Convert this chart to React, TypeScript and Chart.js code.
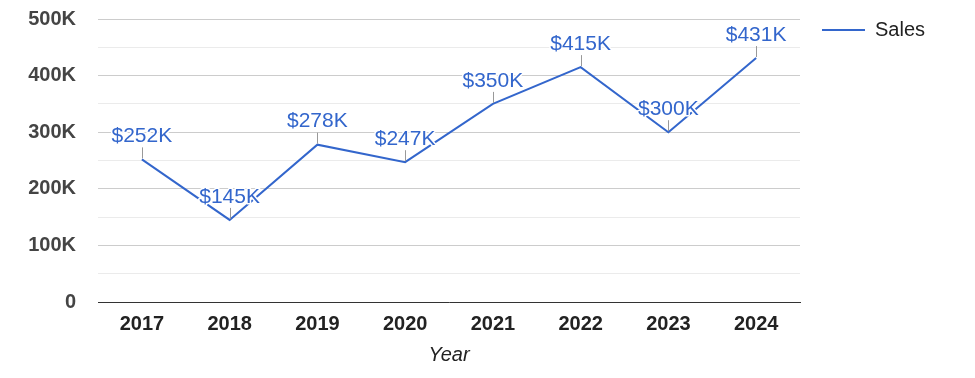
import React, { useEffect, useRef } from "react";
import { Chart, registerables } from "chart.js";

Chart.register(...registerables);

const categories = ["2017", "2018", "2019", "2020", "2021", "2022", "2023", "2024"];
const salesValues = [252000, 145000, 278000, 247000, 350000, 415000, 300000, 431000];
const salesLabels = ["$252K", "$145K", "$278K", "$247K", "$350K", "$415K", "$300K", "$431K"];
const yTickLabels: Record<number, string> = {
  0: "0",
  100000: "100K",
  200000: "200K",
  300000: "300K",
  400000: "400K",
  500000: "500K",
};

const BLUE = "#3366cc";
const FONT = "Arial, 'Liberation Sans', sans-serif";

const labelPlugin = {
  id: "annotLabels",
  afterDatasetsDraw(chart: any) {
    const ctx = chart.ctx;
    const meta = chart.getDatasetMeta(0);
    ctx.save();
    meta.data.forEach((pt: any, i: number) => {
      const x = pt.x;
      const y = pt.y;
      ctx.strokeStyle = "#999999";
      ctx.lineWidth = 1;
      ctx.beginPath();
      ctx.moveTo(Math.round(x) + 0.5, y - 12);
      ctx.lineTo(Math.round(x) + 0.5, y - 1);
      ctx.stroke();
      ctx.font = "21px " + FONT;
      ctx.textAlign = "center";
      ctx.textBaseline = "middle";
      ctx.lineWidth = 3;
      ctx.strokeStyle = "#ffffff";
      ctx.lineJoin = "round";
      ctx.strokeText(salesLabels[i], x, y - 23);
      ctx.fillStyle = BLUE;
      ctx.fillText(salesLabels[i], x, y - 23);
    });
    ctx.restore();
  },
};

const legendPlugin = {
  id: "customLegend",
  afterDraw(chart: any) {
    const ctx = chart.ctx;
    ctx.save();
    ctx.strokeStyle = BLUE;
    ctx.lineWidth = 2;
    ctx.beginPath();
    ctx.moveTo(822, 30);
    ctx.lineTo(865, 30);
    ctx.stroke();
    ctx.fillStyle = "#222222";
    ctx.font = "20px " + FONT;
    ctx.textAlign = "left";
    ctx.textBaseline = "middle";
    ctx.fillText(chart.data.datasets[0].label, 875, 30);
    ctx.restore();
  },
};

export default function App() {
  const ref = useRef<HTMLCanvasElement | null>(null);
  useEffect(() => {
    if (!ref.current) return;
    const chart = new Chart(ref.current, {
      type: "line",
      data: {
        labels: categories,
        datasets: [
          {
            label: "Sales",
            data: salesValues,
            borderColor: BLUE,
            backgroundColor: BLUE,
            borderWidth: 2,
            pointRadius: 0,
            tension: 0,
          },
        ],
      },
      options: {
        animation: false,
        responsive: false,
        maintainAspectRatio: false,
        layout: { padding: { left: 0, right: 175, top: 19, bottom: 0 } },
        plugins: {
          legend: { display: false },
          tooltip: { enabled: false },
        },
        scales: {
          x: {
            offset: true,
            grid: { display: false, drawTicks: false },
            border: { display: true, color: "#333333", width: 1 },
            ticks: {
              color: "#222222",
              font: { family: FONT, size: 20, weight: "bold" },
              padding: 10,
              maxRotation: 0,
            },
            title: {
              display: true,
              text: "Year",
              color: "#222222",
              font: { family: FONT, size: 20, style: "italic" },
              padding: { top: 0, bottom: 11 },
            },
            afterFit(scale: any) {
              scale.height = 76;
              scale.paddingLeft = 0;
              scale.paddingRight = 0;
            },
          },
          y: {
            min: 0,
            max: 500000,
            grid: {
              drawTicks: false,
              color: (c: any) => (c.tick && c.tick.value % 100000 === 0 ? "#cccccc" : "#ebebeb"),
            },
            border: { display: false },
            ticks: {
              stepSize: 50000,
              autoSkip: false,
              color: "#444444",
              font: { family: FONT, size: 20, weight: "bold" },
              padding: 22,
              callback: (v: any) => (yTickLabels[v as number] !== undefined ? yTickLabels[v as number] : ""),
            },
            afterFit(scale: any) {
              scale.width = 98;
              scale.paddingTop = 0;
              scale.paddingBottom = 0;
            },
          },
        },
      },
      plugins: [labelPlugin, legendPlugin],
    });
    return () => chart.destroy();
  }, []);
  return (
    <div style={{ position: "fixed", left: 0, top: 0, width: 975, height: 378, background: "#fff" }}>
      <canvas ref={ref} width={975} height={378} style={{ width: 975, height: 378 }} />
    </div>
  );
}
